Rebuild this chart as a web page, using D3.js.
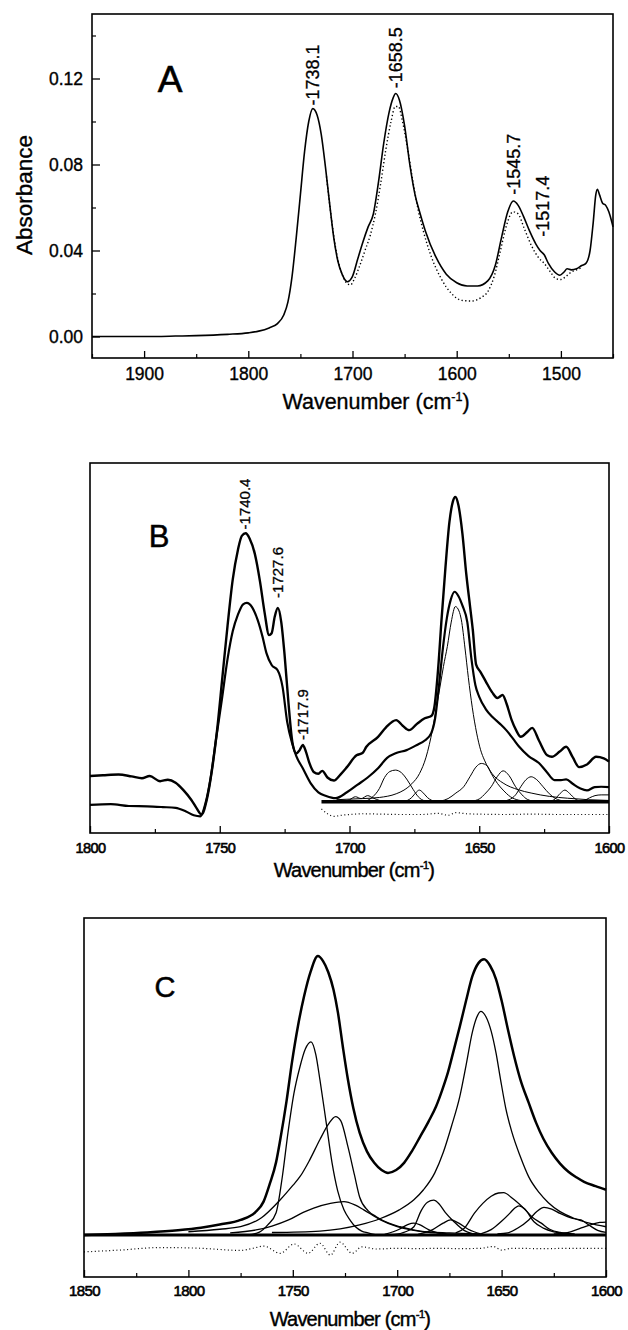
<!DOCTYPE html>
<html><head><meta charset="utf-8">
<script src="https://cdn.jsdelivr.net/npm/d3@7"></script>
<style>body{margin:0;background:#fff}svg{display:block}</style>
</head><body>
<svg id="c" width="628" height="1330"></svg>
<script>
// ---------------- DATA ----------------
// Panel A : absorbance spectra [wavenumber, absorbance]
const aSolid = [[1950,0],[1900,0],[1870,0.0002],[1850,0.0004],[1820,0.001],[1800,0.0017],[1790,0.0025],[1780,0.004],[1772,0.006],[1766,0.010],[1762,0.016],[1758,0.028],[1754,0.046],[1750,0.066],[1746,0.086],[1742,0.100],[1738.1,0.106],[1734,0.103],[1730,0.094],[1726,0.079],[1722,0.062],[1718,0.046],[1714,0.035],[1710,0.029],[1705,0.0255],[1700,0.028],[1695,0.036],[1690,0.044],[1685,0.051],[1680,0.057],[1675,0.072],[1670,0.090],[1665,0.104],[1661,0.111],[1658.5,0.113],[1655,0.110],[1650,0.098],[1645,0.080],[1640,0.066],[1635,0.057],[1630,0.049],[1620,0.037],[1610,0.029],[1600,0.025],[1590,0.0235],[1580,0.0235],[1570,0.026],[1563,0.033],[1557,0.046],[1551,0.058],[1545.7,0.063],[1541,0.061],[1536,0.056],[1530,0.049],[1524,0.043],[1520,0.040],[1516,0.038],[1512,0.034],[1506,0.030],[1501,0.0285],[1497,0.030],[1494,0.0315],[1490,0.031],[1485,0.0315],[1480,0.033],[1476,0.034],[1472,0.040],[1469,0.053],[1466.5,0.066],[1465,0.0685],[1463,0.066],[1460,0.062],[1457,0.061],[1454,0.058],[1451,0.053],[1450,0.051]];
const aDotted = [[1725,0.0745],[1720,0.054],[1715,0.038],[1710,0.029],[1706,0.025],[1702,0.024],[1698,0.027],[1693,0.033],[1688,0.040],[1683,0.047],[1678,0.057],[1673,0.071],[1668,0.087],[1663,0.100],[1659,0.107],[1656,0.107],[1652,0.100],[1647,0.087],[1642,0.072],[1637,0.059],[1632,0.049],[1625,0.038],[1615,0.027],[1605,0.020],[1595,0.0168],[1585,0.0165],[1577,0.018],[1570,0.021],[1564,0.028],[1558,0.040],[1552,0.052],[1546,0.058],[1541,0.057],[1535,0.050],[1528,0.042],[1522,0.037],[1516,0.034],[1510,0.030],[1505,0.027],[1500,0.0265],[1495,0.028],[1490,0.030],[1485,0.031],[1480,0.032]];
const aXTicks = [1900,1800,1700,1600,1500];
const aXMinor = [1950,1850,1750,1650,1550,1450];
const aYTicks = [0.00,0.04,0.08,0.12];
const aYMinor = [0.02,0.06,0.10,0.14];
const aPeakLabels = ["-1738.1","-1658.5","-1545.7","-1517.4"];
const aPeakWn = [1738.1,1658.5,1545.7,1517.4];
const aPeakV = [0.1065,0.1145,0.065,0.0455];

// Panel B : arbitrary units [wavenumber, value]
const bTop = [[1800,15.4],[1795,15.6],[1789,15.8],[1784,15.3],[1780,14.8],[1777,15.4],[1773,14.0],[1770,14.4],[1767,13.6],[1764,11.6],[1761,9.0],[1759,6.8],[1757,5.0],[1755,9.0],[1753,17],[1751,28],[1749,42],[1747,56],[1745,68.5],[1743,76.5],[1741.5,80.3],[1740,81],[1738.5,79.6],[1736.5,75.5],[1734.5,68],[1732.7,59.5],[1731,53.5],[1730,54],[1728.8,58.5],[1727.6,60.8],[1726.3,57],[1725,48],[1723.5,35],[1722,24.5],[1720.5,21.5],[1719.2,22.4],[1718,23.8],[1716.8,22],[1715.5,19],[1713.8,16.5],[1712,16],[1710.5,16.8],[1708.5,15],[1706,14.2],[1703.5,15.8],[1701,17.8],[1697.3,21],[1695,21.6],[1693.5,23.3],[1689,26],[1686,28.5],[1682,30.5],[1679.5,29],[1677,27.8],[1674,29.5],[1671,31],[1668.5,31.6],[1667.3,34],[1666,43],[1664.5,58],[1663,72],[1661.5,84],[1660.2,89.5],[1659.2,90.8],[1658,88.5],[1656.5,81],[1655,70],[1653.5,61],[1652.5,55],[1651.2,45.5],[1649.5,43.5],[1647.5,41],[1645,38],[1643,36.5],[1641,37.3],[1639.5,35],[1637.5,30.5],[1635.8,27.8],[1634,26],[1631.5,27.3],[1629.6,28.4],[1627,25],[1623.8,21],[1622,20.6],[1619,22],[1616.5,23.3],[1614,20.5],[1611.5,17.8],[1608.5,18.5],[1605,20.6],[1602,20.2],[1600,19.3]];
const bBottom = [[1800,7.6],[1792,7.8],[1785,7.3],[1778,7.2],[1772,7.0],[1767,6.8],[1763,5.8],[1760,4.8],[1757.5,4.5],[1755.5,8],[1753.5,15],[1751.5,25],[1749.2,36],[1747,47],[1745,54.5],[1743,59],[1741,61.8],[1739.6,62.2],[1737.5,61],[1735.4,57.6],[1733.5,53],[1732,48.6],[1730,45.4],[1727.7,44],[1725.8,39.5],[1724,30],[1722,24],[1720.5,20.8],[1718,17.5],[1715,13.5],[1712,11],[1709,10],[1705.4,9.4],[1701,11],[1697,13],[1693,15],[1689,17.5],[1685.5,20.3],[1682,21.6],[1678,22.4],[1674,23.8],[1671,25],[1668.5,27],[1667,31],[1665.5,40],[1664,50],[1662.5,58],[1661,63],[1659.5,65.2],[1658,64],[1656.5,61.5],[1654.6,57],[1653,47],[1651.5,40],[1650,36.8],[1647.5,33.5],[1645,31.4],[1642,29.5],[1639.6,27.8],[1637,25.5],[1634.6,23.3],[1631,20.8],[1627,18.9],[1624,16.5],[1621,14.3],[1618.5,14.3],[1616.5,14.5],[1614,13.3],[1611,12],[1608.5,11.5],[1605.5,12.4],[1603,12.5],[1600,12.4]];
const bBand1659 = [[1705,9.0],[1695,9.3],[1688.5,9.6],[1682,10.6],[1679,11.6],[1676,13.3],[1673,16.1],[1670.5,20.5],[1668,28],[1666.5,34],[1665,40],[1663.8,45],[1662.3,50.4],[1660.8,57],[1659.2,61.2],[1657.8,60],[1656.9,57.6],[1655.5,50],[1654.2,42],[1652.7,34],[1651,27],[1649.5,22.5],[1648,19.7],[1645,16],[1640.8,13.5],[1635,11.7],[1630,10.8],[1623,9.9],[1616,9.4],[1608,9.0],[1600,8.8]];
const bBand1682 = [[1694,8.5],[1691,9.8],[1688.5,12],[1686.5,15],[1684.5,16.6],[1682.3,17],[1680,16.3],[1677.7,14.3],[1675.5,11.8],[1673.5,9.8],[1671,8.7],[1668,8.46]];
const bBand1673 = [[1679,8.46],[1676,9.6],[1674.3,11],[1673.1,11.6],[1671.8,11],[1670,9.6],[1667,8.46]];
const bBand1649 = [[1665,8.6],[1662,9.3],[1659,10.8],[1656,12.5],[1653.5,15.3],[1651.3,17.8],[1649.2,18.8],[1647,18.2],[1645.4,16.1],[1643,13.4],[1640.8,11.6],[1638,9.8],[1635,8.9],[1631,8.5]];
const bBand1641 = [[1653,8.6],[1650,9.2],[1647.5,10.8],[1645.4,12.5],[1643,15.3],[1640.8,16.8],[1638.5,15.5],[1636,12.5],[1633.5,10.3],[1631.5,9.1],[1628,8.5]];
const bBand1630 = [[1642,8.5],[1638.5,9.0],[1636,10.3],[1634,12.5],[1632,14.4],[1630,15.2],[1628,14.5],[1625.4,12.5],[1623,10.6],[1620.8,9.4],[1617,8.6]];
const bBand1617 = [[1623,8.5],[1620.8,9.2],[1618.8,10.7],[1617,11.6],[1615.2,10.7],[1613,9.2],[1610.5,8.5]];
const bBand1605 = [[1613,8.5],[1610,8.7],[1607.5,9.5],[1605.4,10.1],[1603,10.3],[1600,10.3]];
const bBand1697 = [[1703,8.46],[1700,9.0],[1697.7,9.8],[1695.5,9.3],[1693,10.1],[1691,9.5],[1688,8.7],[1685,8.46]];
const bBaseline = [[1710.8,8.46],[1600,8.46]];
const bResidual = [[1710.8,6.5],[1708.5,5.2],[1706,4.5],[1703,4.8],[1700,5.0],[1695,5.2],[1688,5.1],[1680,5.0],[1672,5.0],[1666,5.3],[1662,4.8],[1659,5.5],[1655,5.2],[1650,5.1],[1640,5.0],[1630,5.1],[1620,5.0],[1610,5.0],[1600,5.0]];
const bXTicks = [1800,1750,1700,1650,1600];
const bXMinor = [1775,1725,1675,1625];
const bPeakLabels = ["-1740.4","-1727.6","-1717.9"];
const bPeakWn = [1740.4,1727.6,1717.9];
const bPeakV = [81.5,63.0,24.6];

// Panel C : arbitrary units [wavenumber, value]
const cEnvelope = [[1850,11.7],[1835,12.0],[1820,12.4],[1805,13.0],[1794,13.7],[1785,14.6],[1775,15.9],[1768,18.0],[1764,21],[1761,26],[1758,32],[1756,38.3],[1753,49],[1750.4,59.8],[1747.5,70],[1744.6,78.2],[1741.5,85],[1738,89.4],[1735.5,88],[1733,84.9],[1730.5,80],[1728.4,73.7],[1726,64],[1723.6,55],[1721,47],[1718,40.2],[1714.5,35],[1711,31.8],[1707.5,29.8],[1704.4,29],[1700.5,29.8],[1696.7,31.8],[1693,35],[1689,39.1],[1685,43.3],[1681.4,47.5],[1678.5,52],[1675.7,57],[1673,63],[1670,69.8],[1667,77],[1664,83.8],[1661,87.5],[1658.4,88.5],[1655.5,86.7],[1652.7,83],[1650,77],[1647,69],[1644,61.5],[1641,55],[1637,48.5],[1633.5,43],[1630,38.5],[1626,34.6],[1622,31.6],[1618,29.3],[1614,27.7],[1610.5,26.5],[1605,25.3],[1600,24.3]];
const cBand1741 = [[1772,11.7],[1766,12.5],[1762,14.5],[1758,17.9],[1755,28],[1752.3,40.2],[1749.5,51],[1746.6,58.5],[1744,63.5],[1741.3,65.5],[1739,62],[1737,54.9],[1734,43],[1731.2,31.8],[1728.5,24],[1725.5,18.7],[1722.5,15.8],[1720,14],[1717,12.8],[1714,12.3],[1710,11.7]];
const cBand1729 = [[1800,12.6],[1785,13.3],[1775,14],[1765,16.5],[1756,21.5],[1750,25.5],[1746.5,28],[1742,32.5],[1737,38.3],[1733,42.5],[1729.5,44.7],[1727,43.5],[1723.6,36.3],[1720.5,28.5],[1718,22.3],[1714,18.5],[1710,16.8],[1704,15],[1698.7,14],[1689,12.8],[1675,12.3],[1660,12.0]];
const cBand1725 = [[1780,12.3],[1767.6,13.1],[1760,14.2],[1752,15.9],[1745,18],[1740,19.2],[1732,20.5],[1725.5,21],[1720,20],[1716,18.7],[1708,15.9],[1700,14],[1692,13],[1686,12.5],[1680,12.2],[1670,11.8]];
const cBand1660 = [[1760,12.4],[1737,12.8],[1718,14.5],[1708,16.3],[1699,18.7],[1692,21.5],[1687.4,24.3],[1682,29],[1678,34.6],[1674,42],[1670,50.3],[1667,59],[1664,68.2],[1662,72.2],[1660,74],[1657.5,72.5],[1655,68.5],[1652.7,62.5],[1650.5,55],[1648,47],[1645,40.2],[1641,33.5],[1637,27.9],[1632,23.5],[1627.6,20.7],[1622,18.2],[1616,16.5],[1608,15],[1600,14]];
const cBand1683 = [[1702,11.8],[1696,12.6],[1692,14],[1688.5,18.5],[1685.5,20.8],[1682.5,21.4],[1680,20.4],[1677,18],[1672.8,15.4],[1668,13],[1664,12.1],[1660,11.8]];
const cBand1674 = [[1690,11.9],[1683,13.2],[1678,15],[1674.4,15.9],[1670.5,15],[1666,13.3],[1660,12.0]];
const cBand1692 = [[1706,11.9],[1699,13.3],[1695,14.6],[1692,15],[1689,14.5],[1685,13.2],[1678,11.9]];
const cBand1649 = [[1672,12.3],[1668,13.5],[1663,17.8],[1659,20.5],[1655,22.5],[1651.5,23.4],[1649,23.5],[1645,22],[1639.3,19.1],[1635,16.5],[1631,15],[1627,13.3],[1622,12.4],[1615,12]];
const cBand1641 = [[1660,12],[1655,13.2],[1650.3,15.4],[1646,17.8],[1643.5,19.3],[1641.7,19.8],[1639,19],[1634.5,15.4],[1630,13.6],[1625,12.6],[1618,12.1]];
const cBand1630 = [[1652,12],[1647,12.3],[1642,13.7],[1637,15.9],[1633,18.3],[1629.7,19.4],[1626,18.9],[1622,17.7],[1616,16.3],[1612,15.9],[1608,14.4],[1604,13],[1600,12.4]];
const cBand1604 = [[1625,12.0],[1617,12.6],[1611,13.8],[1606,14.8],[1603,15.2],[1600,15.3]];
const cBaseline = [[1850,11.7],[1600,11.7]];
const cResidual = [[1850,7.0],[1832.8,7.5],[1813.6,8.2],[1794,8.0],[1775,7.4],[1769,8.0],[1763.8,8.6],[1756,6.6],[1749.4,9.2],[1742.7,6.6],[1737,9.4],[1732,6.1],[1727.4,9.7],[1721.6,6.6],[1716.9,8.4],[1710,7.8],[1700,8.0],[1690,7.9],[1680,8.0],[1670,7.9],[1660,8.0],[1654,8.5],[1650,7.5],[1645,8.0],[1630,7.9],[1615,8.0],[1600,8.0]];
const cXTicks = [1850,1800,1750,1700,1650,1600];
const cXMinor = [1825,1775,1725,1675,1625];

// ---------------- DRAWING ----------------
const FONT = "'Liberation Sans', Arial, Helvetica, sans-serif";
const svg = d3.select("#c");

function frame(x, y) {
  const [x0, x1] = x.range(), [y0, y1] = y.range();
  svg.append("rect").attr("x", x0).attr("y", y1).attr("width", x1 - x0).attr("height", y0 - y1)
    .attr("fill", "none").attr("stroke", "#000").attr("stroke-width", 1.6);
}
function heavy(sel, w) { sel.attr("stroke", "#000").attr("stroke-width", w).attr("paint-order", "stroke"); }
function xAxis(x, y, majors, minors, fs, pad, ls, sw) {
  const y0 = y.range()[0];
  const g = svg.append("g").attr("transform", `translate(0,${y0})`)
    .call(d3.axisBottom(x).tickValues(majors).tickSizeInner(-7).tickSizeOuter(0).tickPadding(pad).tickFormat(d3.format("d")));
  g.select(".domain").remove();
  g.selectAll("line").attr("stroke-width", 1.3);
  const t = g.selectAll("text").attr("font-family", FONT).attr("font-size", fs).attr("fill", "#000").attr("letter-spacing", ls);
  heavy(t, sw);
  const m = svg.append("g").attr("transform", `translate(0,${y0})`)
    .call(d3.axisBottom(x).tickValues(minors).tickSizeInner(-4).tickSizeOuter(0).tickFormat(""));
  m.select(".domain").remove();
  m.selectAll("line").attr("stroke-width", 1.2);
}
function curve(x, y, data, w, dash) {
  const line = d3.line().x(d => x(d[0])).y(d => y(d[1])).curve(d3.curveMonotoneX);
  const p = svg.append("path").datum(data).attr("d", line).attr("fill", "none")
    .attr("stroke", "#000").attr("stroke-width", w).attr("stroke-linejoin", "round");
  if (dash) p.attr("stroke-dasharray", dash);
  return p;
}
function vlabel(x, y, texts, wns, vs, fs, sw) {
  texts.forEach((t, i) => {
    const s = svg.append("text").attr("transform", `translate(${x(wns[i]) + fs * 0.36},${y(vs[i]) - 2}) rotate(-90)`)
      .attr("font-family", FONT).attr("font-size", fs).attr("text-anchor", "start").text(t);
    heavy(s, sw);
  });
}
function xTitle(cx, by, fs, ls, sw) {
  const t = svg.append("text").attr("x", cx).attr("y", by).attr("text-anchor", "middle")
    .attr("font-family", FONT).attr("font-size", fs).attr("letter-spacing", ls);
  heavy(t, sw);
  t.append("tspan").text("Wavenumber (cm");
  t.append("tspan").attr("dy", -fs * 0.38).attr("font-size", fs * 0.58).text("-1");
  t.append("tspan").attr("dy", fs * 0.38).text(")");
}

// ---- Panel A
const xA = d3.scaleLinear().domain([1950, 1450]).range([92, 613]);
const yA = d3.scaleLinear().domain([-0.01, 0.15]).range([358, 14]);
curve(xA, yA, aDotted, 1.4, "1.3 2.4");
curve(xA, yA, aSolid, 1.6);
frame(xA, yA);
xAxis(xA, yA, aXTicks, aXMinor, 17.5, 10, 0, 0.35);
{
  const g = svg.append("g").attr("transform", `translate(${xA.range()[0]},0)`)
    .call(d3.axisLeft(yA).tickValues(aYTicks).tickSizeInner(-8).tickSizeOuter(0).tickPadding(9).tickFormat(d3.format(".2f")));
  g.select(".domain").remove();
  g.selectAll("line").attr("stroke-width", 1.3);
  heavy(g.selectAll("text").attr("font-family", FONT).attr("font-size", 17.5).attr("fill", "#000"), 0.35);
  const m = svg.append("g").attr("transform", `translate(${xA.range()[0]},0)`)
    .call(d3.axisLeft(yA).tickValues(aYMinor).tickSizeInner(-4).tickSizeOuter(0).tickFormat(""));
  m.select(".domain").remove();
  m.selectAll("line").attr("stroke-width", 1.2);
}
vlabel(xA, yA, aPeakLabels, aPeakWn, aPeakV, 18, 0.3);
heavy(svg.append("text").attr("x", 170).attr("y", 92).attr("text-anchor", "middle")
  .attr("font-family", FONT).attr("font-size", 37).text("A"), 0.6);
heavy(svg.append("text").attr("transform", "translate(32,195) rotate(-90)").attr("text-anchor", "middle")
  .attr("font-family", FONT).attr("font-size", 22.5).text("Absorbance"), 0.35);
xTitle(376, 409, 21.5, 0, 0.35);

// ---- Panel B
const xB = d3.scaleLinear().domain([1800, 1600]).range([90, 609]);
const yB = d3.scaleLinear().domain([0, 100]).range([833, 463]);
[bBand1659, bBand1682, bBand1673, bBand1649, bBand1641, bBand1630, bBand1617, bBand1605, bBand1697]
  .forEach(b => curve(xB, yB, b, 1.0));
curve(xB, yB, bResidual, 1.2, "1 2.6");
curve(xB, yB, bBottom, 2.2);
curve(xB, yB, bTop, 2.4);
curve(xB, yB, bBaseline, 3.4);
frame(xB, yB);
xAxis(xB, yB, bXTicks, bXMinor, 14.5, 10, -0.6, 0.6);
vlabel(xB, yB, bPeakLabels, bPeakWn, bPeakV, 15, 0.3);
heavy(svg.append("text").attr("x", 159).attr("y", 547).attr("text-anchor", "middle")
  .attr("font-family", FONT).attr("font-size", 31).text("B"), 0.5);
xTitle(354, 877, 20, -0.8, 0.4);

// ---- Panel C
const xC = d3.scaleLinear().domain([1850, 1600]).range([84, 606]);
const yC = d3.scaleLinear().domain([0, 100]).range([1277, 918]);
[cBand1741, cBand1729, cBand1725, cBand1660, cBand1683, cBand1674, cBand1692, cBand1649, cBand1641, cBand1630, cBand1604]
  .forEach(b => curve(xC, yC, b, 1.3));
curve(xC, yC, cResidual, 1.2, "1 2.6");
curve(xC, yC, cBaseline, 3.0);
curve(xC, yC, cEnvelope, 2.5);
frame(xC, yC);
xAxis(xC, yC, cXTicks, cXMinor, 15, 8, -0.6, 0.6);
heavy(svg.append("text").attr("x", 165).attr("y", 997).attr("text-anchor", "middle")
  .attr("font-family", FONT).attr("font-size", 29).text("C"), 0.5);
xTitle(350, 1326, 20, -0.8, 0.4);
</script>
</body></html>
